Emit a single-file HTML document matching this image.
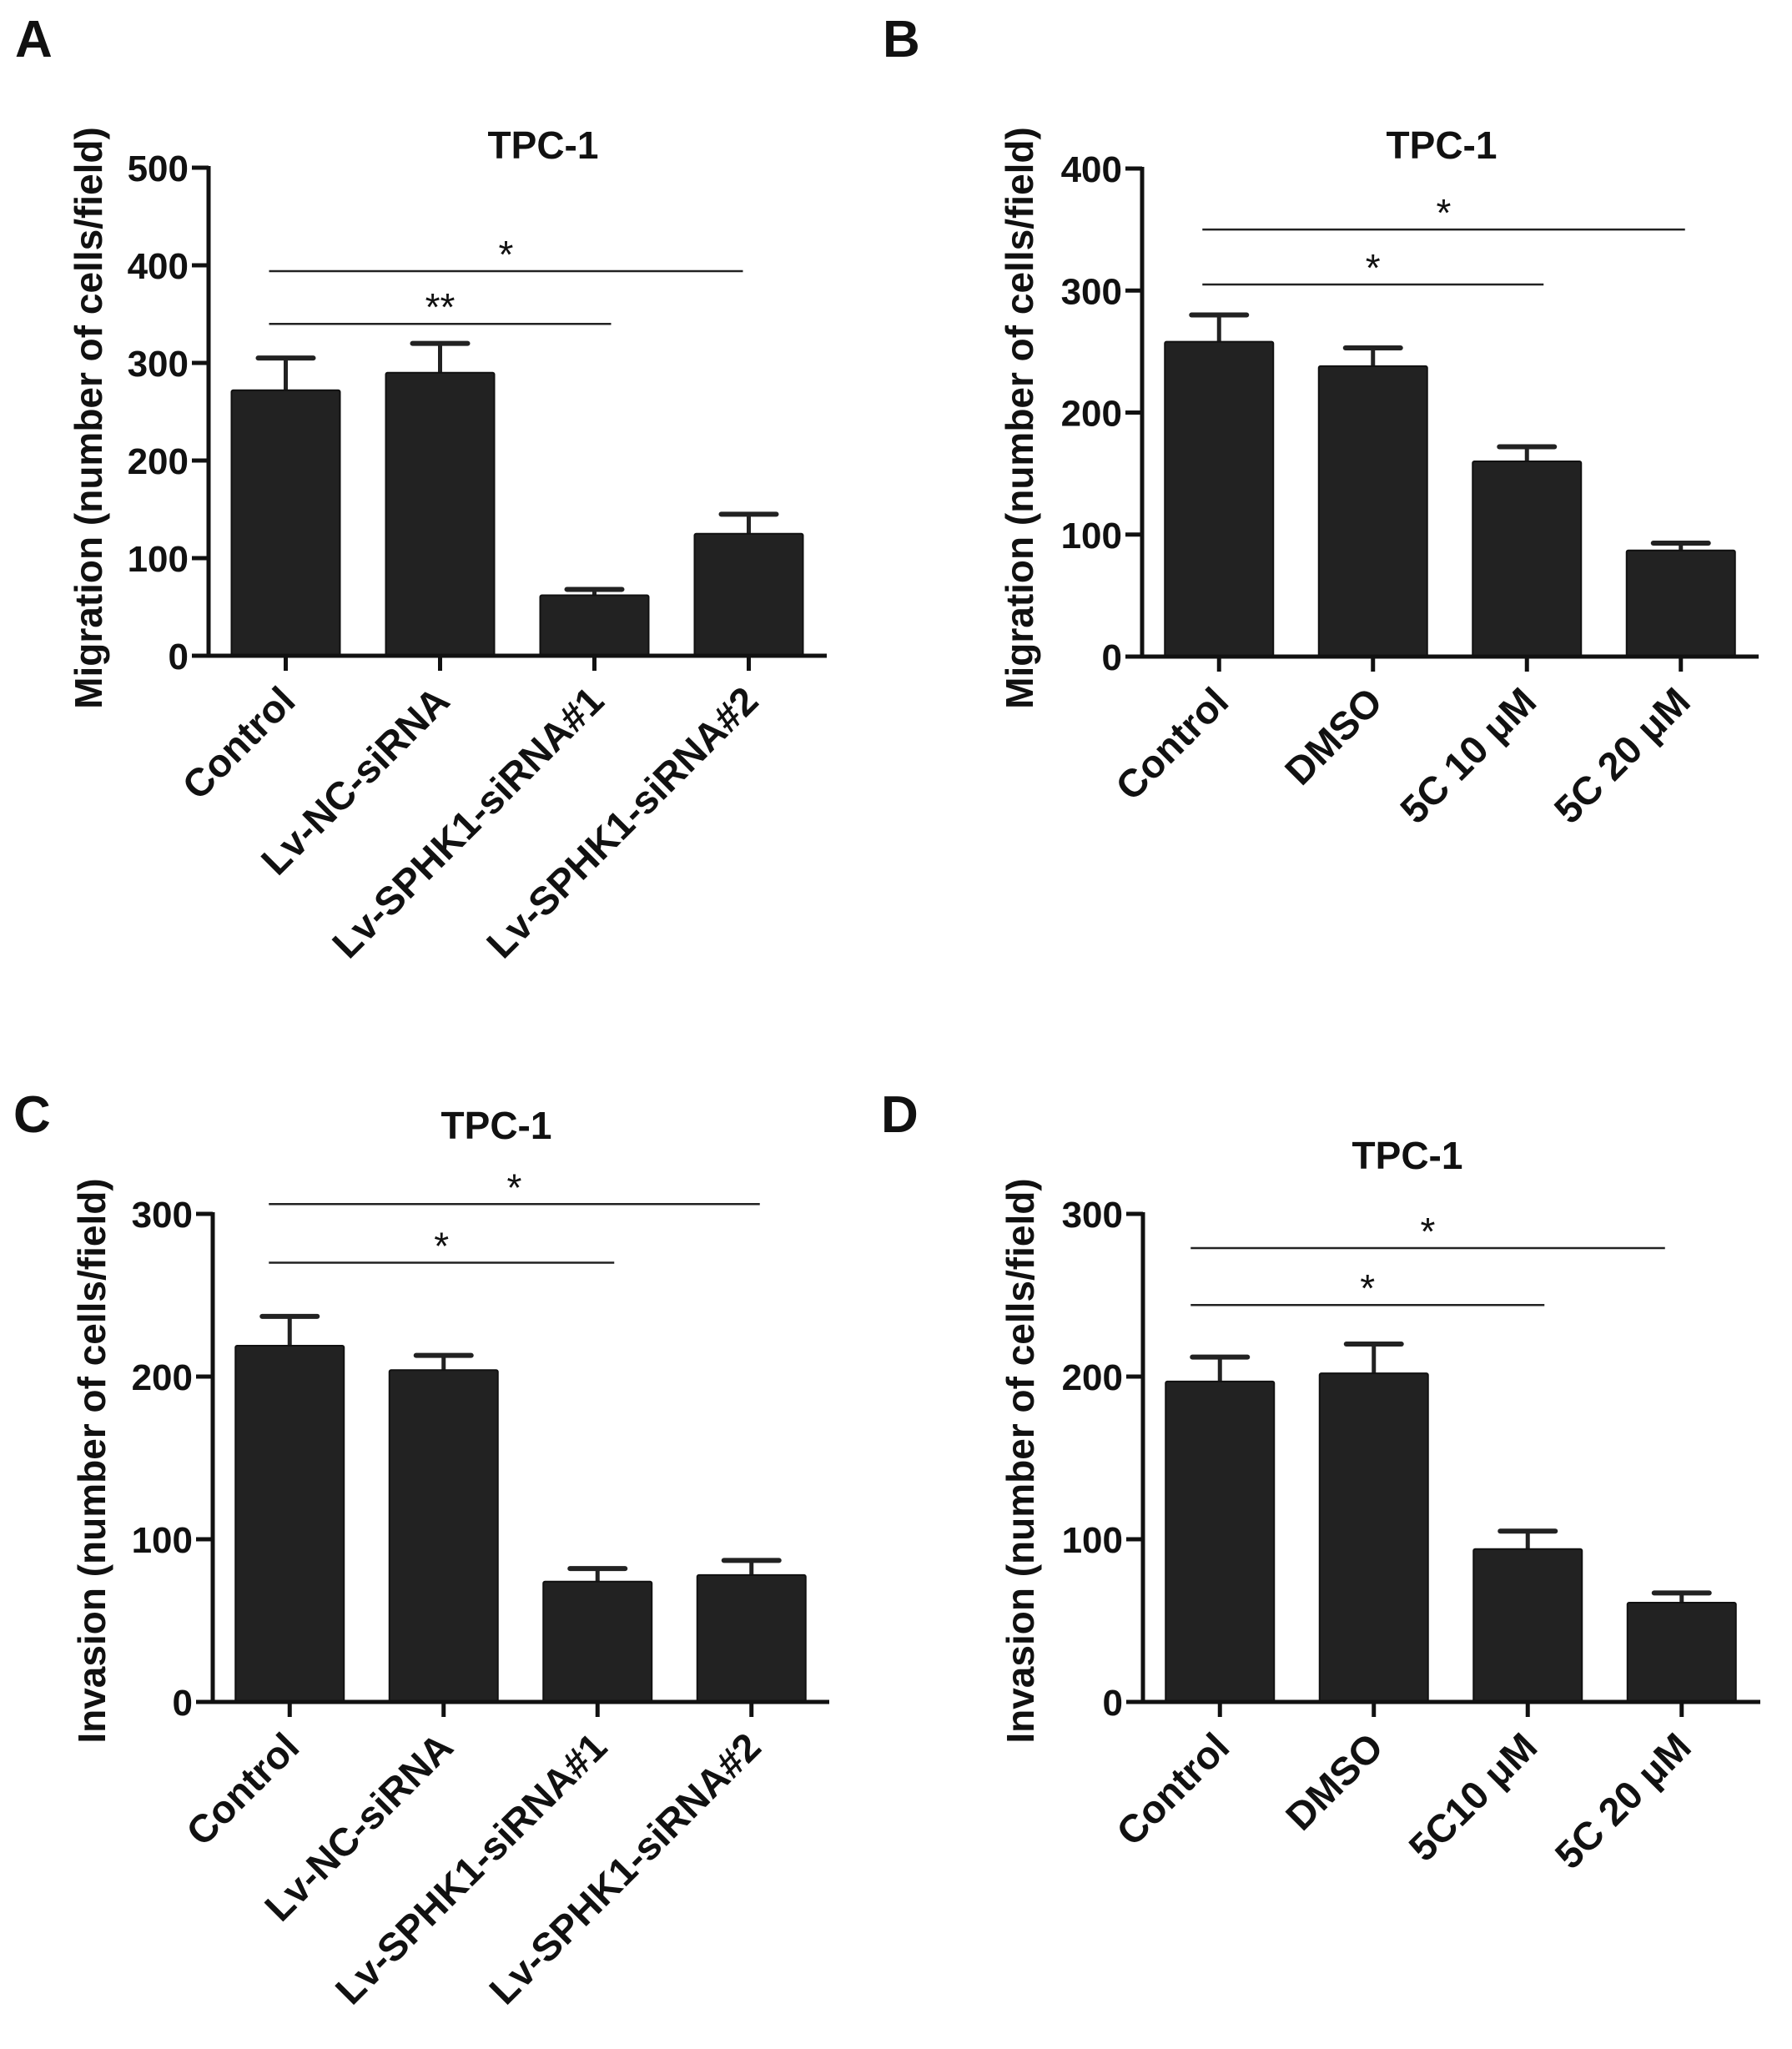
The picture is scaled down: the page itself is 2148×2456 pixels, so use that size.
<!DOCTYPE html>
<html><head><meta charset="utf-8"><style>
html,body{margin:0;padding:0;background:#fff;}
svg{display:block;}
text{font-family:"Liberation Sans",Arial,sans-serif;fill:#111;}
</style></head>
<body>
<svg id="fig" width="2148" height="2456" viewBox="0 0 2148 2456" xmlns="http://www.w3.org/2000/svg">
<rect width="2148" height="2456" fill="#fff"/>
<text x="18" y="68" font-size="62" font-weight="bold">A</text>
<text x="1058" y="68" font-size="62" font-weight="bold">B</text>
<text x="16" y="1357" font-size="62" font-weight="bold">C</text>
<text x="1056" y="1357" font-size="62" font-weight="bold">D</text>
</svg>
<script>
// Panel A data
const catsA = ["Control","Lv-NC-siRNA","Lv-SPHK1-siRNA#1","Lv-SPHK1-siRNA#2"];
const valsA = [272, 290, 62, 125];
const errA = [33, 30, 6, 20];
const ticksA = [0,100,200,300,400,500];
const sigA = [[0,2,340,"**"],[0,3,394,"*"]];
// Panel B data
const catsB = ["Control","DMSO","5C 10 μM","5C 20 μM"];
const valsB = [258, 238, 160, 87];
const errB = [22, 15, 12, 6];
const ticksB = [0,100,200,300,400];
const sigB = [[0,2,305,"*"],[0,3,350,"*"]];
// Panel C data
const catsC = ["Control","Lv-NC-siRNA","Lv-SPHK1-siRNA#1","Lv-SPHK1-siRNA#2"];
const valsC = [219, 204, 74, 78];
const errC = [18, 9, 8, 9];
const ticksC = [0,100,200,300];
const sigC = [[0,2,270,"*"],[0,3,306,"*"]];
// Panel D data
const catsD = ["Control","DMSO","5C10 μM","5C 20 μM"];
const valsD = [197, 202, 94, 61];
const errD = [15, 18, 11, 6];
const ticksD = [0,100,200,300];
const sigD = [[0,2,244,"*"],[0,3,279,"*"]];

const NS="http://www.w3.org/2000/svg";
const svg=document.getElementById('fig');
function mk(tag,attrs,parent){const e=document.createElementNS(NS,tag);for(const k in attrs)e.setAttribute(k,attrs[k]);(parent||svg).appendChild(e);return e;}

function panel(id,cfg,cats,vals,errs,ticks,sigs){
  const g=mk('g',{});
  
  
  const ymax=ticks[ticks.length-1];
  const y=v=>cfg.y0-(v/ymax)*(cfg.y0-cfg.yTop);
  const x=i=>cfg.x0+cfg.step*(i+0.5);
  const bw=130;
  const t=mk('text',{x:cfg.tx,y:cfg.ty,'font-size':46,'font-weight':'bold','text-anchor':'middle'},g);
  t.textContent='TPC-1';
  
  
  vals.forEach((v,i)=>{
    const cx=x(i);
    const eb=mk('line',{x1:cx,x2:cx,y1:y(v),y2:y(v+errs[i]),stroke:'#222','stroke-width':5},g);
    
    
    const cap=mk('line',{x1:cx-33,x2:cx+33,y1:y(v+errs[i]),y2:y(v+errs[i]),stroke:'#222','stroke-width':6,'stroke-linecap':'round'},g);
    
    
    const r=mk('rect',{x:cx-bw/2,y:y(v),width:bw,height:cfg.y0-y(v),fill:'#222',stroke:'#111','stroke-width':2,rx:2},g);
    
    
    const tk=mk('line',{x1:cx,x2:cx,y1:cfg.y0,y2:cfg.y0+18,stroke:'#111','stroke-width':5},g);
    
    
    const ax=cx+14, ay=cfg.y0+57;
    const lb=mk('text',{x:ax,y:ay,'font-size':47,'font-weight':'bold','text-anchor':'end',transform:`rotate(-45 ${ax} ${ay})`},g);
    lb.textContent=cats[i];
    
    
  });
  const ya=mk('line',{x1:cfg.x0,x2:cfg.x0,y1:cfg.yTop-2,y2:cfg.y0+2,stroke:'#111','stroke-width':5},g);
  
  
  const xa=mk('line',{x1:cfg.x0,x2:cfg.xEnd,y1:cfg.y0,y2:cfg.y0,stroke:'#111','stroke-width':5},g);
  
  
  ticks.forEach(tv=>{
    const l=mk('line',{x1:cfg.x0-20,x2:cfg.x0,y1:y(tv),y2:y(tv),stroke:'#111','stroke-width':5},g);
    
    
    const tl=mk('text',{x:cfg.x0-24,y:y(tv)+16,'font-size':44,'font-weight':'bold','text-anchor':'end'},g);
    tl.textContent=tv;
    
    
  });
  const yt=mk('text',{x:cfg.ylx,y:cfg.yly,'font-size':46,'font-weight':'bold','text-anchor':'middle',transform:`rotate(-90 ${cfg.ylx} ${cfg.yly})`},g);
  yt.textContent=cfg.ylabel;
  
  
  sigs.forEach(s=>{
    const x1=x(s[0])+cfg.sigL, x2=x(s[1])+(s[1]===3?cfg.sigR3:20);
    const yy=y(s[2]);
    const l=mk('line',{x1:x1,x2:x2,y1:yy,y2:yy,stroke:'#222','stroke-width':2.5},g);
    
    
    const st=mk('text',{x:(x1+x2)/2,y:yy-4,'font-size':46,'text-anchor':'middle'},g);
    st.textContent=s[3];
    
    
  });
}
panel('a',{x0:250,xEnd:991,y0:786,yTop:201,step:185,tx:651,ty:190,ylx:122,yly:501,sigL:-20,sigR3:-7,ylabel:'Migration (number of cells/field)'},catsA,valsA,errA,ticksA,sigA);
panel('b',{x0:1369,xEnd:2108,y0:787,yTop:202,step:184.5,tx:1728,ty:190,ylx:1238,yly:501,sigL:-20,sigR3:5,ylabel:'Migration (number of cells/field)'},catsB,valsB,errB,ticksB,sigB);
panel('c',{x0:255,xEnd:994,y0:2040,yTop:1455,step:184.5,tx:595,ty:1365,ylx:126,yly:1751,sigL:-25,sigR3:10,ylabel:'Invasion (number of cells/field)'},catsC,valsC,errC,ticksC,sigC);
panel('d',{x0:1370,xEnd:2110,y0:2040,yTop:1455,step:184.5,tx:1687,ty:1401,ylx:1239,yly:1751,sigL:-35,sigR3:-20,ylabel:'Invasion (number of cells/field)'},catsD,valsD,errD,ticksD,sigD);
</script>
</body></html>
